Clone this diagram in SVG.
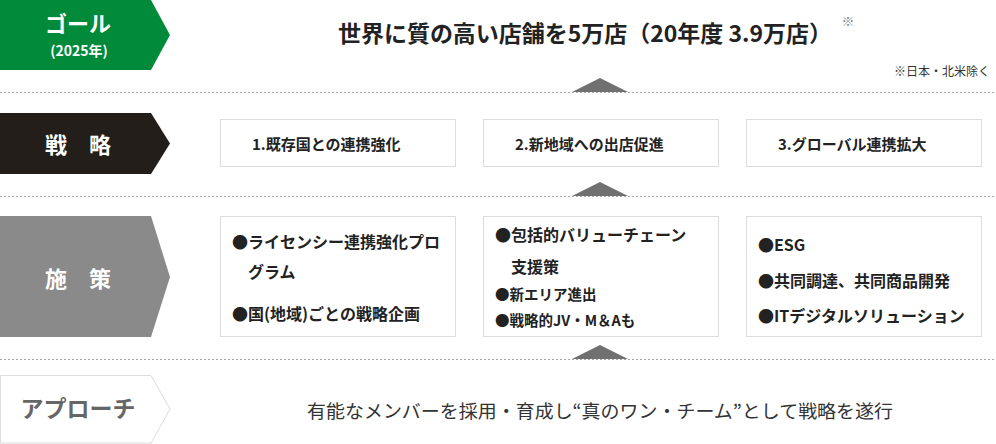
<svg xmlns="http://www.w3.org/2000/svg" width="996" height="444" viewBox="0 0 996 444">
<style>
text{font-family:"Noto Sans CJK JP","Liberation Sans",sans-serif;dominant-baseline:central}
.lbl{fill:#fff;font-weight:bold;text-anchor:middle}
.box{fill:#fff;stroke:#dcdcdc;stroke-width:1}
.bt{font-size:15px;font-weight:bold;fill:#222}
.tt{font-size:16px;font-weight:bold;fill:#222}
.ts{font-size:14.5px;font-weight:bold;fill:#222}
.dot{stroke:#a8a8a8;stroke-width:1;stroke-dasharray:2 2;fill:none}
.tri{fill:#707070}
</style>
<rect width="996" height="444" fill="#fff"/>
<g id="connectors">
<line class="dot" x1="0" y1="92.5" x2="996" y2="92.5"/>
<line class="dot" x1="0" y1="196.5" x2="996" y2="196.5"/>
<line class="dot" x1="0" y1="359.5" x2="996" y2="359.5"/>
<polygon class="tri" points="572,92 600,78 628,92"/>
<polygon class="tri" points="572,196 600,182 628,196"/>
<polygon class="tri" points="572,359 600,345 628,359"/>
</g>
<g id="goal">
<polygon points="0,0 151,0 170,35 151,70 0,70" fill="#008a3a"/>
<text class="lbl" x="78" y="22" font-size="22">ゴール</text>
<text class="lbl" x="79" y="50" font-size="14">(2025年)</text>
<text x="338" y="32" font-size="22.5" font-weight="bold" fill="#222" textLength="494" lengthAdjust="spacingAndGlyphs">世界に質の高い店舗を5万店（20年度 3.9万店）</text>
<text x="848" y="20" font-size="13" fill="#888" text-anchor="middle">※</text>
<text x="990" y="70" font-size="12" fill="#333" text-anchor="end">※日本・北米除く</text>
</g>
<g id="strategy">
<polygon points="0,113 151,113 170,143.5 151,174 0,174" fill="#231e1a"/>
<text class="lbl" x="78" y="143" font-size="22">戦　略</text>
</g>
<g id="strategy1">
<rect class="box" x="220.5" y="119.5" width="235" height="47"/>
<text class="bt" x="252" y="143">1.既存国との連携強化</text>
</g>
<g id="strategy2">
<rect class="box" x="483.5" y="119.5" width="235" height="47"/>
<text class="bt" x="515" y="143">2.新地域への出店促進</text>
</g>
<g id="strategy3">
<rect class="box" x="746.5" y="119.5" width="235" height="47"/>
<text class="bt" x="778" y="143">3.グローバル連携拡大</text>
</g>
<g id="tactics">
<polygon points="0,216 151,216 170,277 151,337 0,337" fill="#8a8a8a"/>
<text class="lbl" x="78" y="277" font-size="22">施　策</text>
</g>
<g id="tactics1">
<rect class="box" x="220.5" y="216.5" width="235" height="120"/>
<text class="tt" x="232" y="241">●ライセンシー連携強化プロ</text>
<text class="tt" x="248" y="271">グラム</text>
<text class="tt" x="232" y="313">●国(地域)ごとの戦略企画</text>
</g>
<g id="tactics2">
<rect class="box" x="483.5" y="216.5" width="235" height="120"/>
<text class="tt" x="495" y="234">●包括的バリューチェーン</text>
<text class="tt" x="511" y="266">支援策</text>
<text class="ts" x="495" y="293">●新エリア進出</text>
<text class="ts" x="495" y="319">●戦略的JV・M＆Aも</text>
</g>
<g id="tactics3">
<rect class="box" x="746.5" y="216.5" width="235" height="120"/>
<text class="tt" x="758" y="244">●ESG</text>
<text class="tt" x="758" y="280">●共同調達、共同商品開発</text>
<text class="tt" x="758" y="315">●ITデジタルソリューション</text>
</g>
<g id="approach">
<polygon points="0.5,375.5 151,375.5 170,409 151,443 0.5,443" fill="#fff" stroke="#dcdcdc" stroke-width="1"/>
<text x="78" y="407" font-size="23" font-weight="bold" fill="#666" text-anchor="middle">アプローチ</text>
<text x="600" y="410" font-size="18.5" fill="#333" text-anchor="middle" textLength="586" lengthAdjust="spacingAndGlyphs">有能なメンバーを採用・育成し“真のワン・チーム”として戦略を遂行</text>
</g>
</svg>
